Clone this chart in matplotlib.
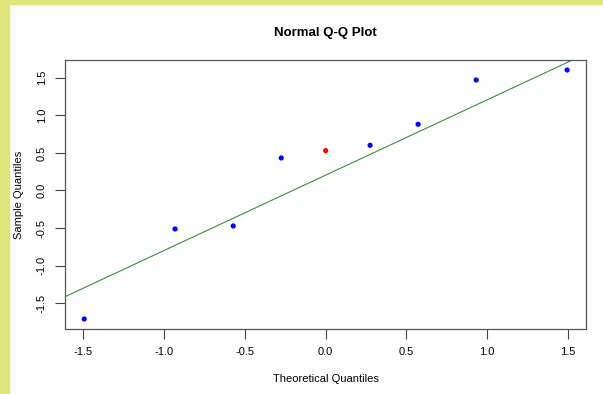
import numpy as np
import matplotlib.pyplot as plt
from matplotlib.patches import Rectangle

plt.rcParams['font.family'] = ['Liberation Sans', 'DejaVu Sans']

# Theoretical normal quantiles (n = 9) and sample quantiles
theoretical = [-1.494, -0.932, -0.572, -0.275, 0.0, 0.275, 0.572, 0.932, 1.494]
sample = [-1.709, -0.512, -0.472, 0.432, 0.530, 0.601, 0.880, 1.469, 1.602]
point_colors = ['blue', 'blue', 'blue', 'blue', 'red', 'blue', 'blue', 'blue', 'blue']

xticks = [-1.5, -1.0, -0.5, 0.0, 0.5, 1.0, 1.5]
yticks = [-1.5, -1.0, -0.5, 0.0, 0.5, 1.0, 1.5]

fig = plt.figure(figsize=(6.03, 3.94), dpi=100)

# yellow frame on the left and top edges
border = '#dfe57a'
fig.patches.append(Rectangle((0, 0), 9 / 603, 1, transform=fig.transFigure,
                             color=border, zorder=0))
fig.patches.append(Rectangle((0, 1 - 4 / 394), 1, 4 / 394, transform=fig.transFigure,
                             color=border, zorder=0))

ax = fig.add_axes([65 / 603, 1 - 329 / 394, (586 - 65) / 603, (329 - 60) / 394])

ax.scatter(theoretical, sample, c=point_colors, s=14, edgecolors='none', zorder=3)

# qqline through the first and third quartiles
q1, q3 = np.percentile(sample, [25, 75])
z = 0.6745
slope = (q3 - q1) / (2 * z)
icpt = q1 + slope * z
ax.axline((0, icpt), slope=slope, color='#3c8c3c', lw=0.8, zorder=2)

ax.set_xlim(-1.613, 1.611)
ax.set_ylim(-1.842, 1.735)
ax.set_xticks(xticks)
ax.set_yticks(yticks)
ax.set_xticklabels([f'{t:.1f}' for t in xticks])
ax.set_yticklabels([f'{t:.1f}' for t in yticks], rotation=90, va='center')
ax.tick_params(length=7, width=0.8, color='#444444', labelsize=8, pad=6)

for s in ax.spines.values():
    s.set_color('#555555')
    s.set_linewidth(0.9)

ax.set_xlabel('Theoretical Quantiles', fontsize=8, labelpad=12.5)
ax.set_ylabel('Sample Quantiles', fontsize=8, labelpad=9)
fig.text(325.5 / 603, 1 - 33 / 394, 'Normal Q-Q Plot', ha='center', va='center',
         fontsize=9.5, fontweight='bold')

fig.savefig('out.png', dpi=100)
